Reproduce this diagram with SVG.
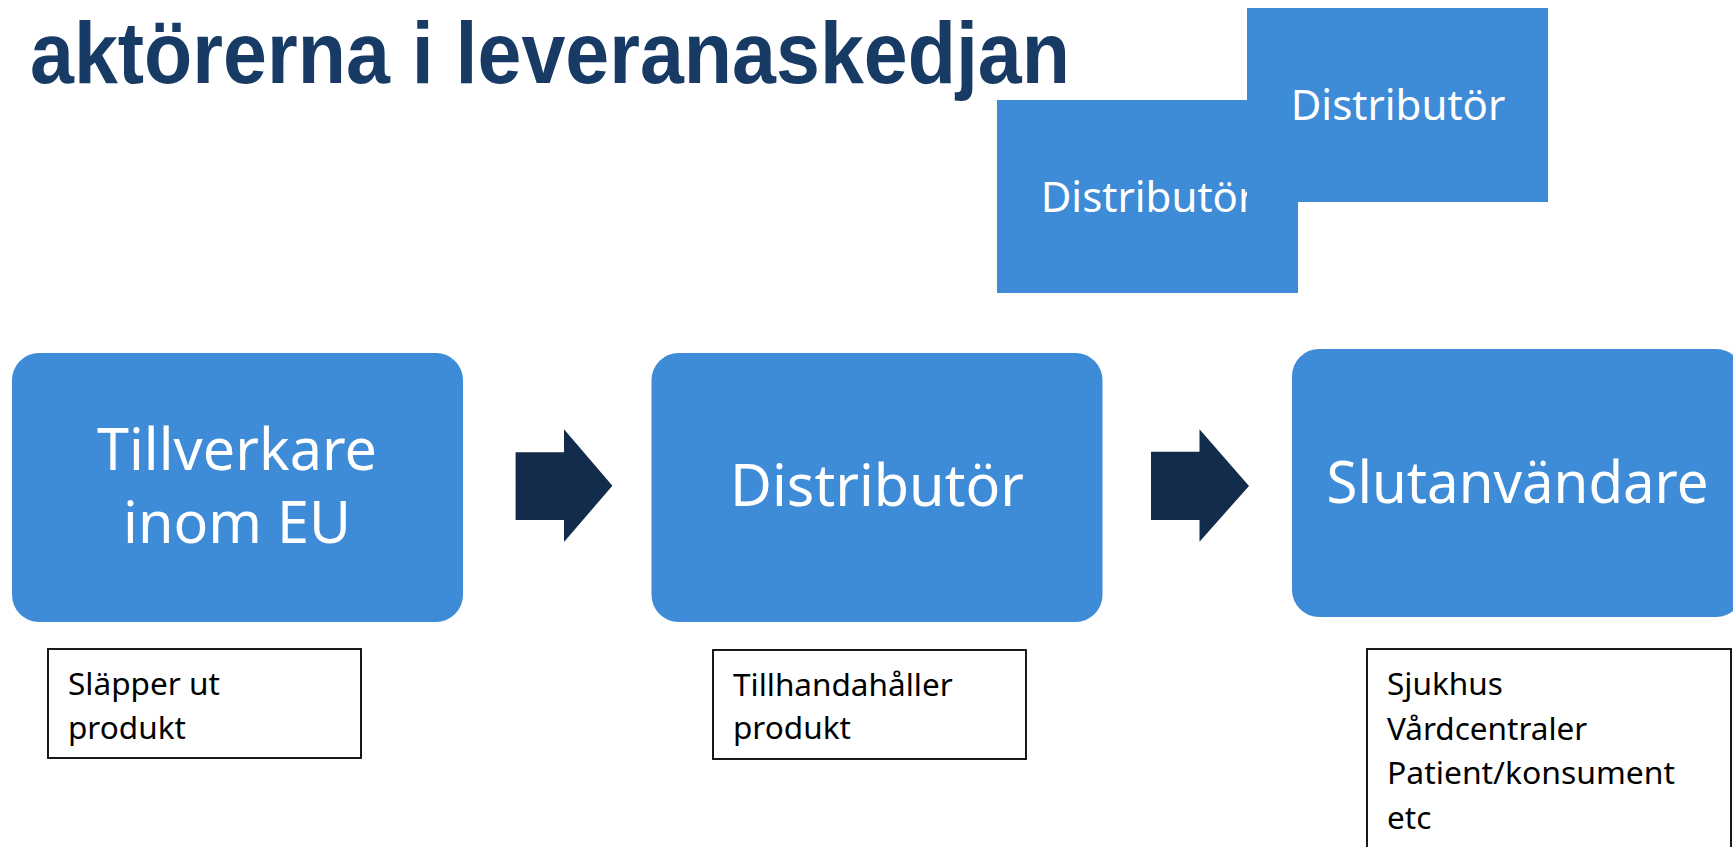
<svg xmlns="http://www.w3.org/2000/svg" width="1733" height="847" viewBox="0 0 1733 847">
  <style>
    .title { font-family: "Liberation Sans", Arial, sans-serif; font-weight: bold; font-size: 87px; fill: #173b65; }
    .blue { fill: #3e8bd8; }
    .big { font-family: "Noto Sans", "Open Sans", sans-serif; font-size: 57.5px; fill: #ffffff; text-anchor: middle; }
    .mid { font-family: "Noto Sans", "Open Sans", sans-serif; font-size: 42px; fill: #ffffff; text-anchor: middle; }
    .note { fill: #ffffff; stroke: #000000; stroke-width: 1.8; }
    .notetext { font-family: "Noto Sans", "Open Sans", sans-serif; font-size: 31.5px; fill: #000000; }
    .arrow { fill: #132c4b; }
  </style>

  <rect width="1733" height="847" fill="#ffffff"/>

  <!-- heading -->
  <g id="title">
    <text class="title" x="30" y="83" textLength="1040" lengthAdjust="spacingAndGlyphs">aktörerna i leveranaskedjan</text>
  </g>

  <!-- overlapping distributor tiles, upper one drawn last -->
  <g id="distributor-back">
    <rect class="blue" x="997" y="100" width="301" height="193"/>
    <text class="mid" x="1148" y="211.5">Distributör</text>
  </g>
  <g id="distributor-front">
    <rect class="blue" x="1247" y="8" width="301" height="194"/>
    <text class="mid" x="1398" y="119.5">Distributör</text>
  </g>

  <!-- supply chain steps -->
  <g id="manufacturer">
    <rect class="blue" x="12" y="353" width="451" height="269" rx="27" ry="27"/>
    <text class="big" x="237" y="469.5">Tillverkare</text>
    <text class="big" x="237" y="542.5">inom EU</text>
  </g>
  <g id="distributor">
    <rect class="blue" x="651.5" y="353" width="451" height="269" rx="27" ry="27"/>
    <text class="big" x="877" y="505.5">Distributör</text>
  </g>
  <g id="end-user">
    <rect class="blue" x="1292" y="349" width="451" height="268" rx="27" ry="27"/>
    <text class="big" x="1517.5" y="502.5" textLength="382" lengthAdjust="spacingAndGlyphs">Slutanvändare</text>
  </g>

  <!-- block arrows between steps -->
  <g id="connectors">
    <polygon class="arrow" points="515.6,452.3 564,452.3 564,429.3 612.4,485.7 564,542 564,520 515.6,520"/>
    <polygon class="arrow" points="1151,451.7 1199.5,451.7 1199.5,429.3 1249,486 1199.5,541.7 1199.5,520 1151,520"/>
  </g>

  <!-- captions under each step -->
  <g id="note-manufacturer">
    <rect class="note" x="48" y="649" width="313" height="109"/>
    <text class="notetext" x="68" y="695" textLength="152" lengthAdjust="spacingAndGlyphs">Släpper ut</text>
    <text class="notetext" x="68" y="738.5">produkt</text>
  </g>
  <g id="note-distributor">
    <rect class="note" x="713" y="650" width="313" height="109"/>
    <text class="notetext" x="733" y="695.5">Tillhandahåller</text>
    <text class="notetext" x="733" y="739">produkt</text>
  </g>
  <g id="note-end-user">
    <rect class="note" x="1367" y="649" width="364" height="220"/>
    <text class="notetext" x="1387" y="694.5">Sjukhus</text>
    <text class="notetext" x="1387" y="740">Vårdcentraler</text>
    <text class="notetext" x="1387" y="784" textLength="288" lengthAdjust="spacingAndGlyphs">Patient/konsument</text>
    <text class="notetext" x="1387" y="829">etc</text>
  </g>
</svg>
